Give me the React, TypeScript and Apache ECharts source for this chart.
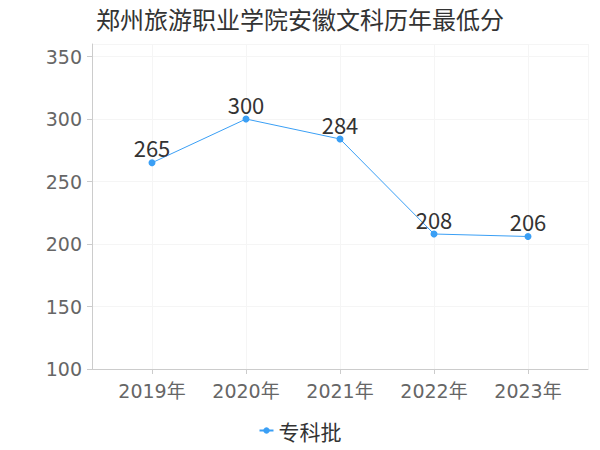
import React, { useEffect, useRef } from "react";
import * as echarts from "echarts";

const categories = ["2019年", "2020年", "2021年", "2022年", "2023年"];
const seriesName = "专科批";
const values = [265, 300, 284, 208, 206];
const titleText = "郑州旅游职业学院安徽文科历年最低分";
const yMin = 100;
const yMax = 360;
const yInterval = 50;

const FONT = "'Noto Sans CJK SC', 'Noto Sans', sans-serif";
const AXIS_FONT = "'DejaVu Sans', 'Noto Sans CJK SC', sans-serif";

export default function App() {
  const ref = useRef<HTMLDivElement>(null);
  useEffect(() => {
    document.body.style.margin = "0";
    const chart = echarts.init(ref.current!, null, { renderer: "svg" });
    chart.setOption({
      animation: false,
      textStyle: { fontFamily: FONT },
      title: {
        text: titleText,
        left: "center",
        top: 1,
        textStyle: { fontSize: 24, fontWeight: "normal", color: "#333", fontFamily: FONT },
      },
      legend: {
        bottom: 4,
        left: "center",
        itemWidth: 14,
        itemHeight: 8,
        textStyle: { fontSize: 21, color: "#333", fontFamily: FONT },
        data: [seriesName],
      },
      grid: [
        { left: 152, right: 72, top: 44, bottom: 81 },
        { left: 92, right: 12, top: 44, bottom: 81 },
      ],
      xAxis: [
        {
          type: "category",
          gridIndex: 0,
          data: categories,
          boundaryGap: false,
          axisLine: { show: false },
          axisTick: { show: true, length: 5, lineStyle: { color: "#ccc" } },
          axisLabel: { fontSize: 19, color: "#666", margin: 12, fontFamily: AXIS_FONT },
          splitLine: { show: true, lineStyle: { color: "#f5f5f5" } },
        },
        {
          type: "value",
          gridIndex: 1,
          min: 0,
          max: 1,
          interval: 1,
          axisLine: { show: true, lineStyle: { color: "#ccc" } },
          axisTick: { show: false },
          axisLabel: { show: false },
          splitLine: { show: true, lineStyle: { color: "#f5f5f5" } },
        },
      ],
      yAxis: [
        {
          type: "value",
          gridIndex: 0,
          min: yMin,
          max: yMax,
          show: false,
          splitLine: { show: false },
        },
        {
          type: "value",
          gridIndex: 1,
          min: yMin,
          max: yMax,
          interval: yInterval,
          offset: 4,
          axisLine: { show: true, lineStyle: { color: "#ccc" } },
          axisTick: { show: true, length: 5, lineStyle: { color: "#ccc" } },
          axisLabel: { fontSize: 19, color: "#666", margin: 6, showMaxLabel: false, fontFamily: AXIS_FONT },
          splitLine: { show: true, lineStyle: { color: "#f5f5f5" } },
        },
      ],
      series: [
        {
          name: seriesName,
          type: "line",
          xAxisIndex: 0,
          yAxisIndex: 0,
          data: values,
          symbol: "circle",
          symbolSize: 7,
          lineStyle: { width: 1, color: "#3a9ff5" },
          itemStyle: { color: "#3a9ff5" },
          label: { show: true, position: "top", fontSize: 22, color: "#333", distance: 1, fontFamily: FONT },
        },
      ],
    });
    return () => chart.dispose();
  }, []);
  return <div ref={ref} style={{ width: 600, height: 450 }} />;
}
